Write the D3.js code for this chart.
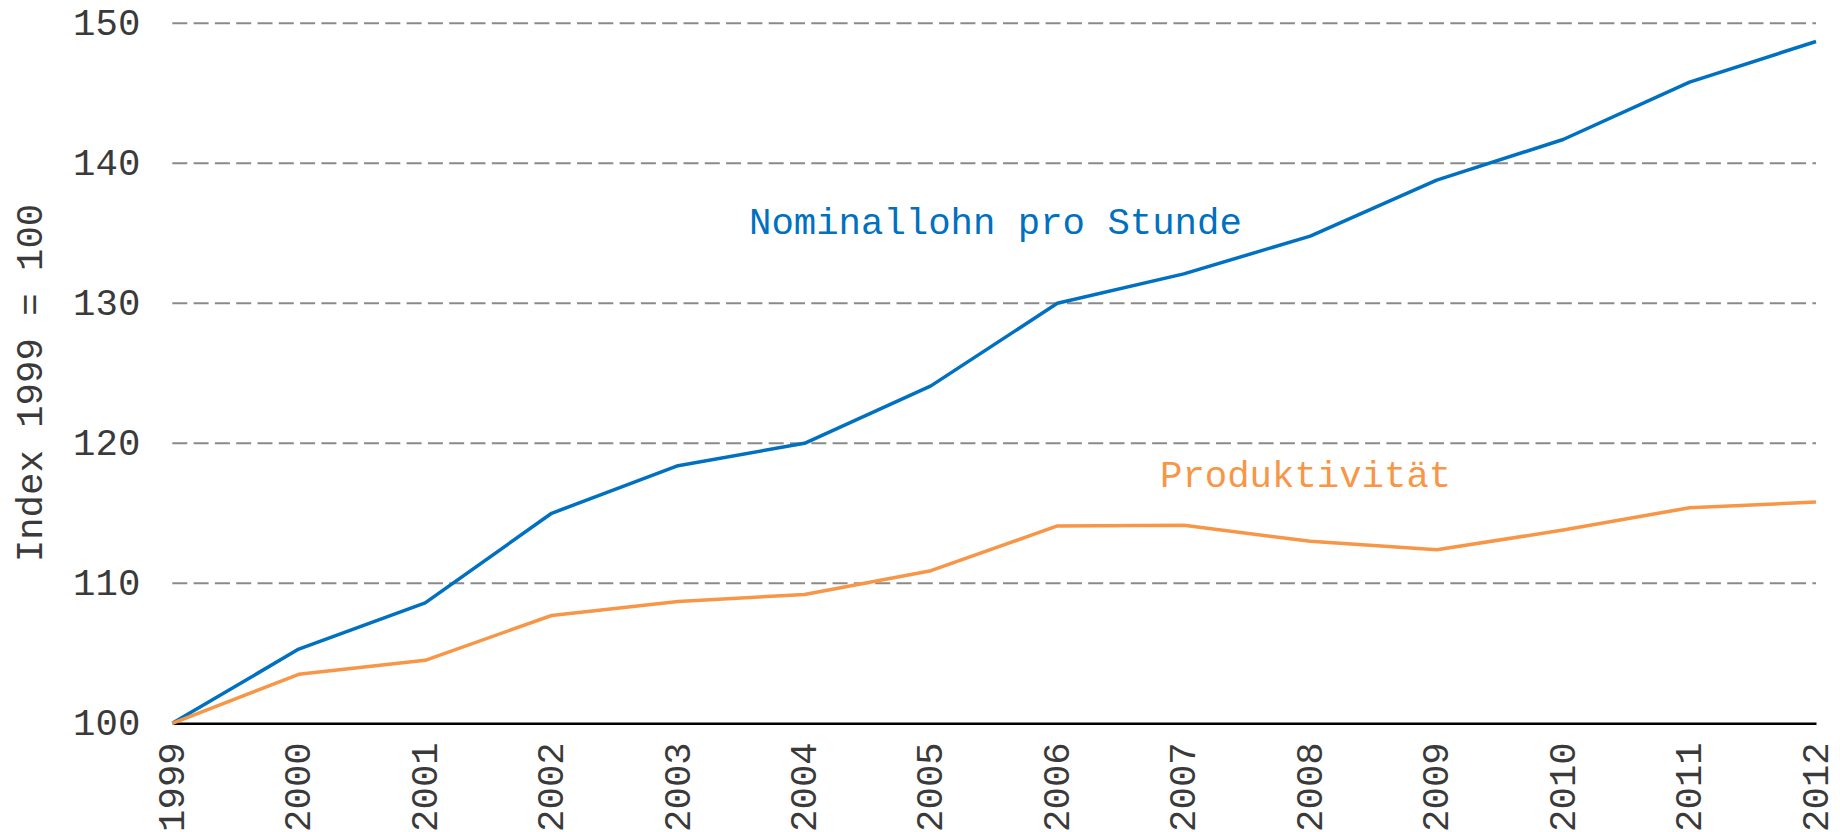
<!DOCTYPE html>
<html>
<head>
<meta charset="utf-8">
<script src="https://cdn.jsdelivr.net/npm/d3@7"></script>
<style>
  html, body { margin: 0; padding: 0; background: #fff; }
  svg { display: block; }
  text { font-family: "Courier New", "Liberation Mono", monospace; }
</style>
</head>
<body>
<div id="chart"></div>
<script>
const years = [1999, 2000, 2001, 2002, 2003, 2004, 2005, 2006, 2007, 2008, 2009, 2010, 2011, 2012];
const nominallohn = [100, 105.3, 108.6, 115.0, 118.4, 120.0, 124.1, 130.0, 132.1, 134.8, 138.8, 141.7, 145.8, 148.7];
const produktivitaet = [100, 103.5, 104.5, 107.7, 108.7, 109.2, 110.9, 114.1, 114.15, 113.0, 112.4, 113.8, 115.4, 115.8];
const yTicks = [100, 110, 120, 130, 140, 150];
const yTitle = "Index 1999 = 100";
const seriesNames = ["Nominallohn pro Stunde", "Produktivität"];

const width = 1840, height = 832;
const fontSize = 37.33;
const fontFamily = "Courier New, Liberation Mono, monospace";

const x = d3.scaleLinear().domain([1999, 2012]).range([172.3, 1816]);
const y = d3.scaleLinear().domain([100, 150]).range([723.3, 23.3]);

const svg = d3.select("#chart")
    .append("svg")
    .attr("width", width)
    .attr("height", height);

// gridlines
svg.append("g")
    .selectAll("line")
    .data(yTicks.filter(d => d > 100))
    .enter()
    .append("line")
    .attr("x1", x(1999))
    .attr("x2", x(2012))
    .attr("y1", d => y(d))
    .attr("y2", d => y(d))
    .attr("stroke", "#8a8a8a")
    .attr("stroke-width", 2)
    .attr("stroke-dasharray", "15,6.3");

// y labels
const yAxis = svg.append("g")
    .attr("transform", `translate(${x(1999)},0)`)
    .call(d3.axisLeft(y).tickValues(yTicks).tickSize(0).tickPadding(32));
yAxis.select(".domain").remove();
yAxis.selectAll("text")
    .attr("font-family", fontFamily)
    .attr("font-size", fontSize)
    .attr("fill", "#3a3a3a")
    .attr("dy", "0.29em");

// x labels
const xAxis = svg.append("g")
    .attr("transform", `translate(0,${y(100)})`)
    .call(d3.axisBottom(x).tickValues(years).tickFormat(d3.format("d")).tickSize(0));
xAxis.select(".domain")
    .attr("stroke", "#000")
    .attr("stroke-width", 2.5);
xAxis.selectAll("text")
    .attr("font-family", fontFamily)
    .attr("font-size", fontSize)
    .attr("fill", "#3a3a3a")
    .attr("text-anchor", "end")
    .attr("x", 0)
    .attr("y", 0)
    .attr("dy", 0)
    .attr("transform", "translate(11,19) rotate(-90)");

// axis title
svg.append("text")
    .attr("transform", "translate(42,383) rotate(-90)")
    .attr("text-anchor", "middle")
    .attr("font-size", fontSize)
    .attr("fill", "#3a3a3a")
    .text(yTitle);

const line = d3.line()
    .x((d, i) => x(years[i]))
    .y(d => y(d));

svg.append("path")
    .datum(nominallohn)
    .attr("fill", "none")
    .attr("stroke", "#0070c0")
    .attr("stroke-width", 3.5)
    .attr("stroke-linejoin", "round")
    .attr("d", line);

svg.append("path")
    .datum(produktivitaet)
    .attr("fill", "none")
    .attr("stroke", "#f79646")
    .attr("stroke-width", 3.5)
    .attr("stroke-linejoin", "round")
    .attr("d", line);

// series labels
svg.append("text")
    .attr("x", 749)
    .attr("y", 234)
    .attr("font-size", fontSize)
    .attr("fill", "#0070c0")
    .text(seriesNames[0]);

svg.append("text")
    .attr("x", 1160)
    .attr("y", 487)
    .attr("font-size", fontSize)
    .attr("fill", "#f79646")
    .text(seriesNames[1]);
</script>
</body>
</html>
